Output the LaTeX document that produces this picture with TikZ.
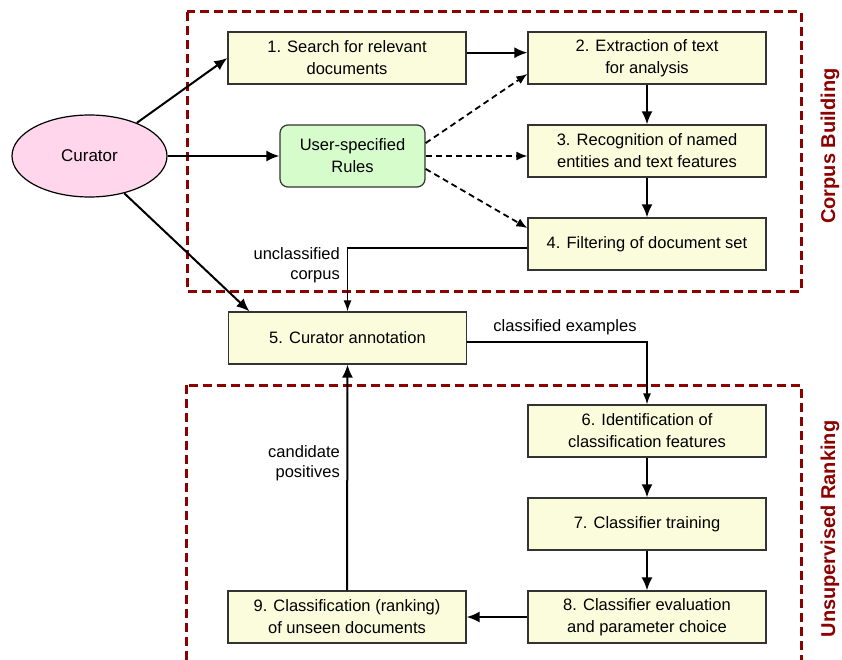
\documentclass[tikz,border=0pt]{standalone}
\usepackage{fontspec}
\setmainfont{Liberation Sans}
\usetikzlibrary{arrows.meta,shapes,calc}
\definecolor{boxfill}{RGB}{250,252,220}
\definecolor{rulefill}{RGB}{214,252,204}
\definecolor{curfill}{RGB}{255,214,236}
\definecolor{cbred}{RGB}{140,0,0}

\begin{document}
\begin{tikzpicture}[x=1pt,y=-1pt,->,>={Latex[length=13pt,width=11pt]},
  box/.style={draw=black!80,line width=1.2pt,fill=boxfill,minimum width=238pt,
    minimum height=52pt,inner sep=0pt,align=center,font=\fontsize{16.5}{22}\selectfont},
  rulebox/.style={box,fill=rulefill,rounded corners=8pt,minimum width=145pt,minimum height=62pt},
  curnode/.style={draw=black,line width=1.2pt,fill=curfill,ellipse,minimum width=155pt,
    minimum height=82pt,inner sep=0pt,font=\fontsize{17}{22}\selectfont},
  flow/.style={line width=2pt},
  thin/.style={line width=1.4pt,>={Latex[length=11pt,width=8pt]}},
  rulearr/.style={line width=1.8pt,dashed,dash pattern=on 6pt off 4pt,>={Latex[length=11pt,width=9pt]}},
  lbl/.style={align=right,anchor=east,inner sep=0pt,font=\fontsize{16.5}{20}\selectfont},
  phase/.style={rotate=90,text=cbred,font=\fontsize{20}{24}\bfseries},
  cframe/.style={-,draw=cbred,line width=3pt,dash pattern=on 9pt off 5pt}]
\clip (0,0) rectangle (842,660);

% phase frames
\draw[cframe] (187,12) rectangle (801,291);
\draw[cframe] (186,385) rectangle (801,700);
\node[phase] (pc) at (830,146) {Corpus Building};
\node[phase] (pu) at (830,529) {Unsupervised Ranking};

% nodes
\node[curnode] (cur) at (89.5,156) {Curator};
\node[rulebox] (rul) at (352.5,156) {User-specified\\Rules};
\node[box] (b1) at (347,58) {1. Search for relevant\\documents};
\node[box] (b2) at (647,58) {2. Extraction of text\\for analysis};
\node[box] (b3) at (647,151) {3. Recognition of named\\entities and text features};
\node[box] (b4) at (647,244) {4. Filtering of document set};
\node[box] (b5) at (347.5,338) {5. Curator annotation};
\node[box] (b6) at (647,431) {6. Identification of\\classification features};
\node[box] (b7) at (647,524) {7. Classifier training};
\node[box] (b8) at (647,617) {8. Classifier evaluation\\and parameter choice};
\node[box] (b9) at (347,617) {9. Classification (ranking)\\of unseen documents};

% labels
\node[lbl] (lu) at (340,265) {unclassified\\corpus};
\node[lbl,anchor=center] (lc) at (565,327) {classified examples};
\node[lbl] (lp) at (340,463) {candidate\\positives};

% curator
\draw[flow] (cur.35) -- (b1.west);
\draw[flow] (cur.east) -- (rul.west);
\draw[flow] (cur.-47) -- ($(b5.north west)!0.09!(b5.north east)$);

% corpus building
\draw[flow] ($(b1.north east)!0.4!(b1.south east)$) -- ($(b2.north west)!0.4!(b2.south west)$);
\draw[flow] (b2.south) -- (b3.north);
\draw[flow] (b3.south) -- (b4.north);
\draw[rulearr] (rul.10) -- ($(b2.south west)!0.2!(b2.north west)$);
\draw[rulearr] (rul.east) -- (rul.east -| b3.west);
\draw[rulearr] (rul.-10) -- ($(b4.north west)!0.2!(b4.south west)$);
\draw[thin] ($(b4.west)+(0,4)$) -| (b5.north);

% ranking
\draw[thin] ($(b5.east)+(0,4)$) -| (b6.north);
\draw[flow] (b6.south) -- (b7.north);
\draw[flow] (b7.south) -- (b8.north);
\draw[flow] (b8.west) -- (b9.east);
\draw[flow] (b9.north) -- (b5.south);
\end{tikzpicture}
\end{document}
